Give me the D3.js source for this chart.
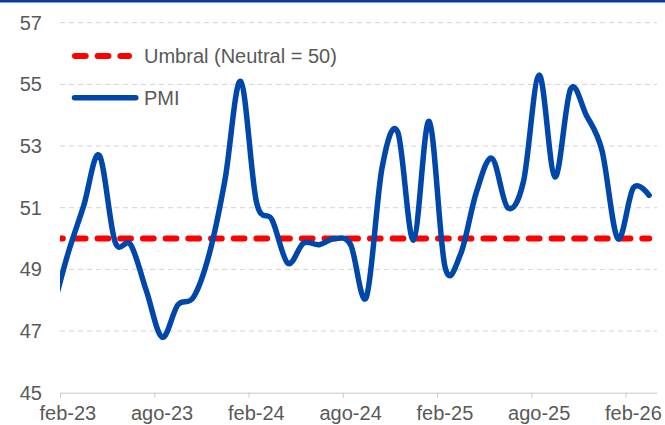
<!DOCTYPE html>
<html>
<head>
<meta charset="utf-8">
<script src="https://cdn.jsdelivr.net/npm/d3@7"></script>
<style>
  body { margin: 0; background: #fff; }
  svg { display: block; font-family: "Liberation Sans", Arial, sans-serif; }
</style>
</head>
<body>
<div id="chart"></div>
<script>
// monthly PMI, one value per month (ene-23 sits just left of the axis and gets clipped)
let months = ["ene-23","feb-23","mar-23","abr-23","may-23","jun-23","jul-23","ago-23","sep-23","oct-23","nov-23","dic-23",
              "ene-24","feb-24","mar-24","abr-24","may-24","jun-24","jul-24","ago-24","sep-24","oct-24","nov-24","dic-24",
              "ene-25","feb-25","mar-25","abr-25","may-25","jun-25","jul-25","ago-25","sep-25","oct-25","nov-25","dic-25",
              "ene-26","feb-26","mar-26"];
let pmi = [47.6, 49.5, 51.05, 52.7, 49.9, 49.8, 48.3, 46.8, 47.85, 48.1, 49.5, 51.9,
           55.1, 51.2, 50.6, 49.2, 49.85, 49.8, 50.0, 49.8, 48.1, 52.3, 53.45, 49.95,
           53.8, 49.1, 49.5, 51.5, 52.6, 51.0, 51.85, 55.3, 52.0, 54.85, 54.0, 52.85,
           50.0, 51.65, 51.4];
let threshold = 50;
let yTicks = [45, 47, 49, 51, 53, 55, 57];
let xTickLabels = ["feb-23","ago-23","feb-24","ago-24","feb-25","ago-25","feb-26"];
let seriesNames = ["Umbral (Neutral = 50)", "PMI"];

let W = 665, H = 425;
let margin = {left: 60, right: 657, top: 22.7, bottom: 392.7};
let blue = "#0047ab", red = "#ff0000", grey = "#595959";

let svg = d3.select("#chart").append("svg")
    .attr("width", W).attr("height", H);

// top border
svg.append("rect").attr("x", 0).attr("y", 0).attr("width", W).attr("height", 2.5).attr("fill", "#0a3d9e");

// month index: 0 = start of feb-23 band; ene-23 is -1
let firstIdx = months.indexOf("feb-23");
let x = d3.scaleLinear().domain([0, 38]).range([margin.left, margin.right]);
let y = d3.scaleLinear().domain([45, 57]).range([margin.bottom, margin.top]);
let px = function(i) { return x(i - firstIdx + 0.5); };

// gridlines
svg.append("g").selectAll("line")
    .data(yTicks.filter(function(d) { return d > 45; }))
    .enter().append("line")
    .attr("x1", margin.left).attr("x2", margin.right)
    .attr("y1", function(d) { return y(d); }).attr("y2", function(d) { return y(d); })
    .attr("stroke", "#d4d4d4").attr("stroke-width", 1).attr("stroke-dasharray", "5 4");

// y labels
svg.append("g").selectAll("text")
    .data(yTicks).enter().append("text")
    .attr("x", 42).attr("y", function(d) { return y(d); })
    .attr("dy", "0.35em").attr("text-anchor", "end")
    .attr("font-size", 20).attr("fill", grey)
    .text(function(d) { return d; });

// x axis: ticks every 6 months, labels centred on the month band
let tickIdx = xTickLabels.map(function(m) { return months.indexOf(m) - firstIdx; });
let xAxis = d3.axisBottom(x).tickValues(tickIdx).tickSize(5).tickFormat("");
let gx = svg.append("g").attr("transform", "translate(0," + margin.bottom + ")").call(xAxis);
gx.select(".domain").attr("stroke", "#c8c8c8").attr("d", "M" + margin.left + ",0.5H" + margin.right);
gx.selectAll(".tick line").attr("stroke", "#c8c8c8");

svg.append("g").selectAll("text")
    .data(xTickLabels).enter().append("text")
    .attr("x", function(d) { return px(months.indexOf(d)); })
    .attr("y", 420).attr("text-anchor", "middle")
    .attr("font-size", 20).attr("fill", grey)
    .text(function(d) { return d; });

// clip
svg.append("clipPath").attr("id", "plot")
  .append("rect").attr("x", margin.left).attr("y", 0).attr("width", W - margin.left).attr("height", H);

let lineGen = d3.line()
    .x(function(d, i) { return px(i); })
    .y(function(d) { return y(d); })
    .curve(d3.curveCardinal.tension(0));

let plot = svg.append("g").attr("clip-path", "url(#plot)");

plot.append("path")
    .datum(months.map(function() { return threshold; }))
    .attr("d", d3.line().x(function(d, i) { return px(i); }).y(function(d) { return y(d); }))
    .attr("fill", "none").attr("stroke", red).attr("stroke-width", 6)
    .attr("stroke-linecap", "round").attr("stroke-dasharray", "10.7 12");

plot.append("path")
    .datum(pmi)
    .attr("d", lineGen)
    .attr("fill", "none").attr("stroke", blue).attr("stroke-width", 5.5)
    .attr("stroke-linecap", "round").attr("stroke-linejoin", "round");

// legend
let legend = svg.append("g");
legend.append("line")
    .attr("x1", 75).attr("x2", 129).attr("y1", 56).attr("y2", 56)
    .attr("stroke", red).attr("stroke-width", 6)
    .attr("stroke-linecap", "round").attr("stroke-dasharray", "10.7 12");
legend.append("line")
    .attr("x1", 74.5).attr("x2", 135.8).attr("y1", 97.7).attr("y2", 97.7)
    .attr("stroke", blue).attr("stroke-width", 5.5).attr("stroke-linecap", "round");
legend.selectAll("text")
    .data(seriesNames).enter().append("text")
    .attr("x", 144).attr("y", function(d, i) { return i === 0 ? 56 : 97.7; })
    .attr("dy", "0.35em").attr("font-size", 20).attr("fill", grey)
    .text(function(d) { return d; });
</script>
</body>
</html>
